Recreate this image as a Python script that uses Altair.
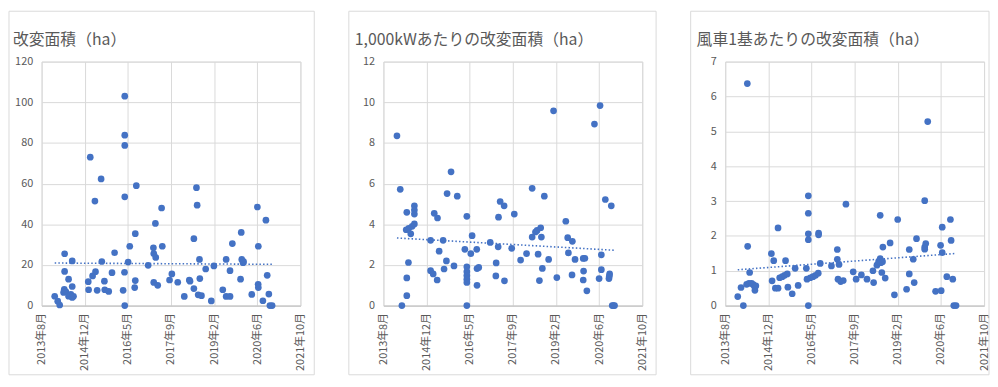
import json
import pandas as pd
import altair as alt

# ---- axis ticks (Excel date serials, step 500 days) ----
tick_values = [41500, 42000, 42500, 43000, 43500, 44000, 44500]
tick_labels = ["2013年8月", "2014年12月", "2016年5月", "2017年9月", "2019年2月", "2020年6月", "2021年10月"]

titles = ["改変面積（ha）", "1,000kWあたりの改変面積（ha）", "風車1基あたりの改変面積（ha）"]
y_max = [120, 12, 7]
y_step = [20, 2, 1]

# ---- panel 1: 改変面積 (ha) ----
date1 = [41652, 41687, 41710, 41767, 41767, 41763, 41767, 41755, 41782, 41813, 41813, 41828, 41839, 41855, 41855, 41855, 41870,
         42041, 42045, 42064, 42091, 42118, 42125, 42144, 42190, 42198, 42228, 42232, 42278, 42316, 42346,
         42445, 42461, 42464, 42464, 42464, 42464, 42464, 42503, 42522, 42579, 42586, 42586, 42598,
         42735, 42796, 42800, 42800, 42819, 42823, 42846, 42891, 42899,
         42983, 43010, 43078, 43154, 43212, 43220, 43265, 43265, 43295, 43303, 43315, 43330, 43334, 43353, 43402, 43467, 43497,
         43600, 43639, 43639, 43684, 43684, 43711, 43806, 43814, 43820, 43835, 43841, 43936, 44001, 44012, 44010, 44012,
         44065, 44100, 44115, 44134, 44146, 44172]
area1 = [4.6, 2.2, 0.3, 25.5, 16.8, 8.0, 7.0, 6.5, 6.8, 13.0, 4.6, 4.9, 5.5, 22.0, 9.4, 4.0, 4.6,
         11.8, 7.8, 73.0, 14.6, 51.4, 16.7, 7.5, 62.3, 21.7, 12.0, 7.8, 7.0, 16.2, 26.0,
         7.5, 16.4, 103.0, 83.8, 78.8, 53.5, 0.0, 21.4, 29.2, 8.9, 12.3, 35.4, 59.0,
         19.8, 28.4, 25.6, 11.4, 40.4, 23.7, 10.0, 48.0, 29.2,
         12.6, 15.6, 11.5, 4.5, 12.6, 12.0, 32.9, 8.4, 58.0, 49.4, 5.3, 22.7, 13.3, 4.9, 18.0, 2.3, 19.5,
         7.8, 22.7, 4.5, 4.5, 17.2, 30.5, 13.0, 36.0, 22.7, 21.1, 21.6, 5.5, 48.5, 29.2, 10.5, 8.9,
         2.4, 42.0, 14.9, 5.7, 0.0, 0.0]

# ---- panel 2: 1,000kWあたり (ha) ----
date2 = [41657, 41695, 41714, 41764, 41771, 41771, 41771, 41790, 41794, 41817, 41833, 41859, 41859, 41859, 41859,
         42047, 42047, 42077, 42089, 42123, 42127, 42146, 42192, 42203, 42230, 42238, 42284, 42318, 42356,
         42444, 42467, 42467, 42467, 42467, 42467, 42467, 42467, 42513, 42528, 42582, 42585, 42585, 42605,
         42738, 42803, 42807, 42830, 42834, 42853, 42899, 42903,
         42987, 43017, 43090, 43159, 43224, 43224, 43262, 43281, 43293, 43308, 43323, 43331, 43342, 43365, 43415, 43472, 43510,
         43614, 43636, 43644, 43686, 43690, 43721, 43816, 43820, 43816, 43835, 43858, 43946, 44000, 44011, 44026, 44026,
         44072, 44114, 44122, 44118, 44141, 44152, 44166, 44179]
area2 = [8.35, 5.72, 0.0, 3.73, 4.59, 1.36, 0.49, 2.12, 3.8, 3.53, 3.9, 4.02, 4.91, 4.7, 4.5,
         3.21, 1.72, 1.56, 4.54, 1.26, 4.31, 2.68, 3.21, 1.8, 2.2, 5.51, 6.58, 1.95, 5.38,
         2.77, 4.39, 1.91, 1.67, 1.48, 1.3, 1.14, 0.0, 2.56, 3.44, 2.77, 1.82, 1.0, 1.88,
         3.11, 1.46, 2.1, 2.89, 4.35, 5.12, 4.91, 1.22,
         2.82, 4.5, 2.24, 2.56, 5.77, 3.37, 3.62, 3.7, 2.53, 1.23, 3.83, 3.37, 1.83, 5.38, 2.27, 9.58, 1.38,
         4.15, 3.34, 2.59, 1.51, 3.16, 2.27, 2.32, 1.7, 1.26, 2.33, 0.73, 8.93, 1.33, 9.84, 2.5, 1.77,
         5.22, 1.33, 1.56, 1.45, 4.91, 0.0, 0.0, 0.0]

# ---- panel 3: 風車1基あたり (ha) ----
date3 = [41645, 41683, 41710, 41756, 41760, 41783, 41748, 41775, 41806, 41825, 41844, 41844, 41855,
         42035, 42062, 42112, 42043, 42081, 42112, 42131, 42161, 42188, 42219, 42199, 42226, 42276, 42310, 42345,
         42440, 42463, 42463, 42463, 42463, 42448, 42486, 42517, 42547, 42578, 42463, 42582, 42582, 42601,
         42731, 42799, 42799, 42819, 42807, 42838, 42868, 42899,
         42983, 43017, 43078, 43143, 43212, 43220, 43258, 43277, 43296, 43304, 43323, 43315, 43354, 43296, 43327, 43411, 43461, 43499,
         43602, 43633, 43633, 43679, 43690, 43717, 43812, 43812, 43824, 43812, 43847, 43938, 44003, 43996, 44015, 44015,
         44068, 44110, 44118, 44137, 44149, 44175]
area3 = [0.26, 0.52, 0.0, 6.37, 1.70, 0.95, 0.61, 0.64, 0.64, 0.60, 0.53, 0.44, 0.57,
         1.49, 1.29, 2.23, 0.71, 0.5, 0.5, 0.8, 0.83, 0.87, 0.91, 1.29, 0.53, 0.34, 1.07, 0.58,
         1.07, 3.15, 2.65, 2.06, 1.89, 0.76, 0.80, 0.83, 0.87, 0.93, 0.0, 2.08, 2.03, 1.21,
         1.14, 1.61, 1.33, 1.18, 0.76, 0.69, 0.72, 2.91,
         0.97, 0.76, 0.88, 0.76, 1.0, 0.66, 1.16, 1.26, 1.35, 1.23, 1.26, 0.95, 0.79, 2.59, 1.68, 1.80, 0.31, 2.47,
         0.47, 1.61, 0.91, 1.33, 0.66, 1.92, 3.01, 1.68, 1.78, 1.62, 5.28, 0.41, 0.43, 1.73, 2.25, 1.52,
         0.83, 2.47, 1.87, 0.76, 0.0, 0.0]

FONT = "Noto Sans CJK JP"
BLUE = "#4472C4"
GRID = "#d9d9d9"
LABEL = "#595959"
W, H = 262, 247

label_expr = (json.dumps(tick_labels, ensure_ascii=False)
              + "[indexof(" + json.dumps(tick_values) + ", datum.value)]")


def panel(dates, vals, title, ymax, ystep, left, right):
    df = pd.DataFrame({"date": dates, "val": vals})
    xenc = alt.X("date:Q",
                 scale=alt.Scale(domain=[tick_values[0], tick_values[-1]], nice=False, zero=False),
                 axis=alt.Axis(values=tick_values, labelExpr=label_expr, title=None,
                               grid=True, gridColor=GRID, domainColor="#bfbfbf",
                               ticks=False, tickSize=0, labelAngle=270, labelAlign="right",
                               labelBaseline="middle", labelPadding=7, labelFontSize=11))
    yenc = alt.Y("val:Q",
                 scale=alt.Scale(domain=[0, ymax], nice=False),
                 axis=alt.Axis(values=list(range(0, ymax + 1, ystep)), title=None,
                               grid=True, gridColor=GRID, domain=False,
                               ticks=False, tickSize=0, labelPadding=9, labelFontSize=11))
    box = alt.Chart(pd.DataFrame({"b": [0]})).mark_rect(
        fillOpacity=0, stroke=GRID, strokeWidth=1
    ).encode(x=alt.value(-left), x2=alt.value(W + right), y=alt.value(-51), y2=alt.value(H + 70))
    pts = alt.Chart(df).mark_circle(size=46, color=BLUE, opacity=1).encode(x=xenc, y=yenc)
    trend = alt.Chart(df).transform_regression("date", "val", method="linear").mark_line(
        color=BLUE, strokeDash=[1.5, 2.2], strokeWidth=1.6
    ).encode(x=xenc, y=yenc)
    ttl = alt.Chart(pd.DataFrame({"t": [title]})).mark_text(
        align="left", baseline="alphabetic", font=FONT, fontSize=16, color=LABEL
    ).encode(text="t:N", x=alt.value(-29), y=alt.value(-17))
    return alt.layer(box, pts, trend, ttl).properties(width=W, height=H)


p1 = panel(date1, area1, titles[0], y_max[0], y_step[0], 33, 14)
p2 = panel(date2, area2, titles[1], y_max[1], y_step[1], 35, 14)
p3 = panel(date3, area3, titles[2], y_max[2], y_step[2], 35, 5)

chart = alt.hconcat(p1, p2, p3, spacing=33).properties(padding=0).configure_view(
    stroke=GRID
).configure_axis(labelFont=FONT, labelColor=LABEL)

chart.save("out.html", embed_options={"renderer": "svg", "actions": False})
